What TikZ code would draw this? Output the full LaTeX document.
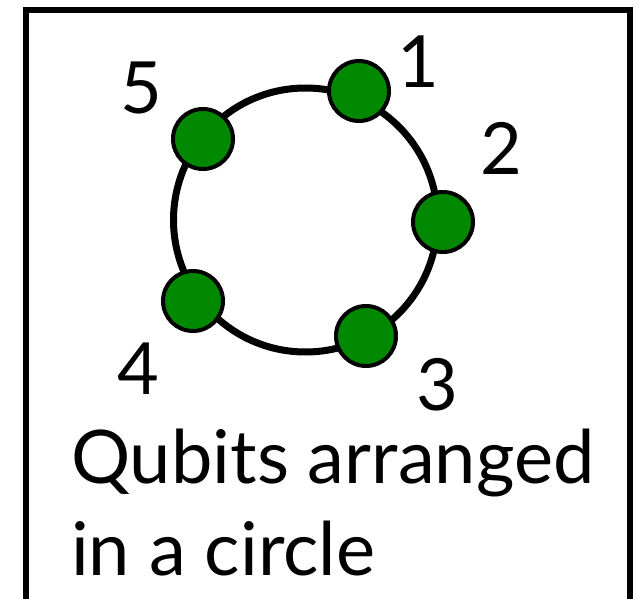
\documentclass[tikz,border=0pt]{standalone}
\usepackage{fontspec}
\setmainfont{Lato}
\usepackage{xcolor}
\usepackage{tikz}
\usetikzlibrary{positioning}
\definecolor{qgreen}{RGB}{0,137,0}

\begin{document}
\begin{tikzpicture}[x=1pt, y=-1pt,
  qubit/.style={circle, draw, line width=4pt, fill=qgreen, minimum size=60pt, inner sep=0pt},
  num/.style={font=\fontsize{72}{72}\selectfont, inner sep=0pt},
  ring/.style={circle, draw, line width=7pt, minimum size=264pt, inner sep=0pt}]
\useasboundingbox (0,0) rectangle (643,599);
\draw[line width=6pt] (26,10) rectangle (630,650);
\node[ring] (ring) at (305.5,220) {};
\node[qubit] (q1) at (359,91) {};
\node[qubit] (q2) at (443,222) {};
\node[qubit] (q3) at (366,336) {};
\node[qubit] (q4) at (193,301) {};
\node[qubit] (q5) at (203,139) {};
\node[num] (l1) at (418,62) {1};
\node[num] (l2) at (501,148) {2};
\node[num] (l3) at (437,385) {3};
\node[num] (l4) at (138,369) {4};
\node[num] (l5) at (141,88) {5};
\node[anchor=base west, inner sep=0pt, align=left,
  font=\fontsize{74}{92}\selectfont] (caption) at (71,575) {Qubits arranged\\in a circle};
\end{tikzpicture}
\end{document}
